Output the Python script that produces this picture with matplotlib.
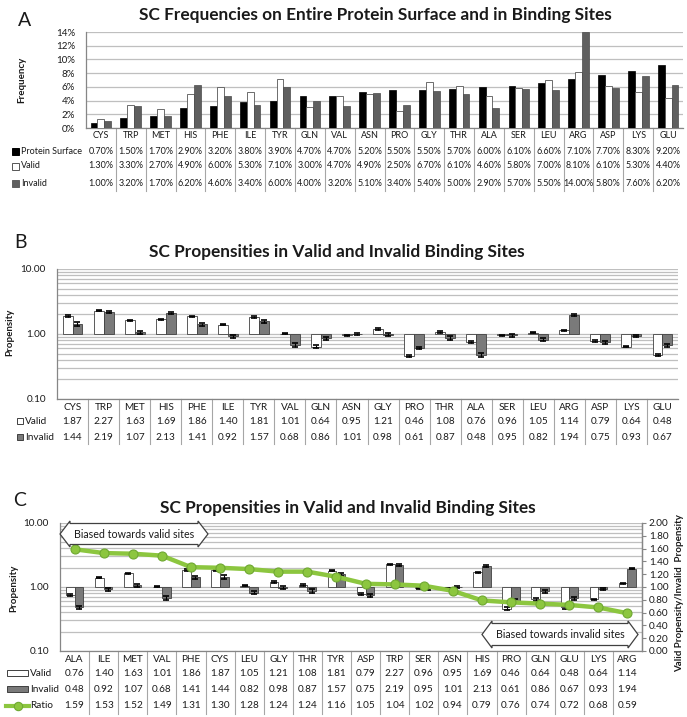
import matplotlib
matplotlib.use('Agg')
import matplotlib.pyplot as plt
import numpy as np
from matplotlib.transforms import blended_transform_factory
from matplotlib.patches import Polygon, Rectangle
from matplotlib.lines import Line2D
from matplotlib.ticker import FixedLocator, NullFormatter, FuncFormatter, LogLocator

plt.rcParams['font.family'] = ['Lato', 'DejaVu Sans']

# ---------------- data ----------------
cats_a = ['CYS', 'TRP', 'MET', 'HIS', 'PHE', 'ILE', 'TYR', 'GLN', 'VAL', 'ASN',
          'PRO', 'GLY', 'THR', 'ALA', 'SER', 'LEU', 'ARG', 'ASP', 'LYS', 'GLU']
surface_a = [0.70, 1.50, 1.70, 2.90, 3.20, 3.80, 3.90, 4.70, 4.70, 5.20,
             5.50, 5.50, 5.70, 6.00, 6.10, 6.60, 7.10, 7.70, 8.30, 9.20]
valid_a = [1.30, 3.30, 2.70, 4.90, 6.00, 5.30, 7.10, 3.00, 4.70, 4.90,
           2.50, 6.70, 6.10, 4.60, 5.80, 7.00, 8.10, 6.10, 5.30, 4.40]
invalid_a = [1.00, 3.20, 1.70, 6.20, 4.60, 3.40, 6.00, 4.00, 3.20, 5.10,
             3.40, 5.40, 5.00, 2.90, 5.70, 5.50, 14.00, 5.80, 7.60, 6.20]

cats_b = ['CYS', 'TRP', 'MET', 'HIS', 'PHE', 'ILE', 'TYR', 'VAL', 'GLN', 'ASN',
          'GLY', 'PRO', 'THR', 'ALA', 'SER', 'LEU', 'ARG', 'ASP', 'LYS', 'GLU']
valid_b = [1.87, 2.27, 1.63, 1.69, 1.86, 1.40, 1.81, 1.01, 0.64, 0.95,
           1.21, 0.46, 1.08, 0.76, 0.96, 1.05, 1.14, 0.79, 0.64, 0.48]
invalid_b = [1.44, 2.19, 1.07, 2.13, 1.41, 0.92, 1.57, 0.68, 0.86, 1.01,
             0.98, 0.61, 0.87, 0.48, 0.95, 0.82, 1.94, 0.75, 0.93, 0.67]
# estimated error bar half-widths (same order as cats_b)
valid_err_b = [0.06, 0.05, 0.04, 0.04, 0.05, 0.04, 0.05, 0.02, 0.03, 0.02,
               0.04, 0.02, 0.03, 0.03, 0.02, 0.03, 0.03, 0.03, 0.02, 0.02]
invalid_err_b = [0.10, 0.08, 0.06, 0.08, 0.07, 0.04, 0.07, 0.05, 0.05, 0.03,
                 0.04, 0.03, 0.05, 0.03, 0.04, 0.04, 0.06, 0.04, 0.04, 0.04]

cats_c = ['ALA', 'ILE', 'MET', 'VAL', 'PHE', 'CYS', 'LEU', 'GLY', 'THR', 'TYR',
          'ASP', 'TRP', 'SER', 'ASN', 'HIS', 'PRO', 'GLN', 'GLU', 'LYS', 'ARG']
valid_c = [0.76, 1.40, 1.63, 1.01, 1.86, 1.87, 1.05, 1.21, 1.08, 1.81,
           0.79, 2.27, 0.96, 0.95, 1.69, 0.46, 0.64, 0.48, 0.64, 1.14]
invalid_c = [0.48, 0.92, 1.07, 0.68, 1.41, 1.44, 0.82, 0.98, 0.87, 1.57,
             0.75, 2.19, 0.95, 1.01, 2.13, 0.61, 0.86, 0.67, 0.93, 1.94]
ratio_c = [1.59, 1.53, 1.52, 1.49, 1.31, 1.30, 1.28, 1.24, 1.24, 1.16,
           1.05, 1.04, 1.02, 0.94, 0.79, 0.76, 0.74, 0.72, 0.68, 0.59]

# ---------------- layout helpers ----------------
W, H = 687, 717
fig = plt.figure(figsize=(W / 100, H / 100), dpi=100)

def fx(px):
    return px / W

def fy(py):
    return 1 - py / H

def axrect(x0, y0, x1, y1):
    return [fx(x0), fy(y1), (x1 - x0) / W, (y1 - y0) / H]

GRID = '#bfbfbf'
SPINE = '#868686'
TXT = '#1a1a1a'
TFS = 7.2   # table font size panels B, C
TFA = 6.5   # table font size panel A
TITLE_FS = 12.4

def style_spines(ax, keep):
    for s in ['left', 'right', 'top', 'bottom']:
        if s in keep:
            ax.spines[s].set_color(SPINE)
            ax.spines[s].set_linewidth(0.9)
        else:
            ax.spines[s].set_visible(False)

def table(ax, cats, rows, fmt, y_header, y_rows, y_top, y_bot, fs):
    n = len(cats)
    tr = blended_transform_factory(ax.transData, fig.transFigure)
    for i, c in enumerate(cats):
        ax.text(i, fy(y_header), c, transform=tr, ha='center', va='center',
                fontsize=fs, color=TXT, clip_on=False)
        for vals, yy in zip(rows, y_rows):
            ax.text(i, fy(yy), fmt(vals[i]), transform=tr, ha='center', va='center',
                    fontsize=fs, color=TXT, clip_on=False)
    for i in range(n - 1):
        ax.add_line(Line2D([i + 0.5, i + 0.5], [fy(y_top), fy(y_bot)], transform=tr,
                           color='#a6a6a6', lw=0.8, clip_on=False))

def square(x, y, size, fc, ec):
    fig.add_artist(Rectangle((fx(x), fy(y + size / 2)), size / W, size / H,
                             transform=fig.transFigure, facecolor=fc, edgecolor=ec, lw=0.7))

def double_arrow(x0, x1, yt, yb, text, head=10, inset=2.5):
    yc = (yt + yb) / 2
    pts = [(x0, yc), (x0 + head, yt), (x0 + head, yt + inset), (x1 - head, yt + inset),
           (x1 - head, yt), (x1, yc), (x1 - head, yb), (x1 - head, yb - inset),
           (x0 + head, yb - inset), (x0 + head, yb)]
    pts = [(fx(a), fy(b)) for a, b in pts]
    fig.add_artist(Polygon(pts, closed=True, transform=fig.transFigure,
                           facecolor='white', edgecolor='#404040', lw=0.9, zorder=10))
    fig.text(fx((x0 + x1) / 2), fy(yc), text, ha='center', va='center',
             fontsize=7.7, color=TXT, zorder=11)

# ================= Panel A =================
axA = fig.add_axes(axrect(86, 32, 683, 128))
x = np.arange(len(cats_a))
bw = 0.23
axA.bar(x - bw, surface_a, bw, color='black', edgecolor='black', lw=0.5, zorder=3)
axA.bar(x, valid_a, bw, color='white', edgecolor='#555555', lw=0.6, zorder=3)
axA.bar(x + bw, invalid_a, bw, color='#5f5f5f', edgecolor='#4a4a4a', lw=0.5, zorder=3)
axA.set_xlim(-0.5, len(cats_a) - 0.5)
axA.set_ylim(0, 14)
axA.set_yticks(np.arange(0, 15, 2))
axA.yaxis.set_major_formatter(FuncFormatter(lambda v, p: f'{int(v)}%'))
axA.grid(axis='y', color=GRID, lw=0.9, zorder=1)
axA.set_axisbelow(True)
axA.set_xticks([])
axA.tick_params(axis='y', length=0, labelsize=7.0, pad=8, labelcolor=TXT)
style_spines(axA, ['left', 'bottom'])
table(axA, cats_a, [surface_a, valid_a, invalid_a], lambda v: f'{v:.2f}%',
      136, [151, 166, 183], 128, 191, TFA)
fig.text(fx(22), fy(80), 'Frequency', rotation=90, ha='center', va='center',
         fontsize=7, fontweight='bold', color=TXT)
fig.text(fx(375), fy(15), 'SC Frequencies on Entire Protein Surface and in Binding Sites',
         ha='center', va='center', fontsize=TITLE_FS, fontweight='bold', color=TXT)
fig.text(fx(25), fy(20), 'A', ha='center', va='center', fontsize=14, color=TXT)
square(12, 151, 7, 'black', 'black')
square(12, 166, 7, 'white', '#555555')
square(12, 183, 7, '#5f5f5f', '#5f5f5f')
for t, yy in zip(['Protein Surface', 'Valid', 'Invalid'], [151, 166, 183]):
    fig.text(fx(21), fy(yy), t, ha='left', va='center', fontsize=TFA, color=TXT)

# ================= Panel B / C common =================
def log_axes(ax):
    ax.set_yscale('log')
    ax.set_ylim(0.1, 10)
    ax.yaxis.set_major_locator(FixedLocator([0.1, 1, 10]))
    ax.yaxis.set_major_formatter(FuncFormatter(lambda v, p: f'{v:.2f}'))
    ax.yaxis.set_minor_locator(LogLocator(base=10, subs=range(2, 10)))
    ax.yaxis.set_minor_formatter(NullFormatter())
    ax.grid(axis='y', which='both', color=GRID, lw=0.9, zorder=1)
    ax.set_axisbelow(True)
    ax.set_xticks([])
    ax.tick_params(axis='y', which='both', length=0, labelsize=7.2, pad=8, labelcolor=TXT)

err_v = dict(zip(cats_b, valid_err_b))
err_i = dict(zip(cats_b, invalid_err_b))

def prop_bars(ax, cats, vv, ii, bw):
    x = np.arange(len(cats))
    vv = np.array(vv)
    ii = np.array(ii)
    ax.bar(x - bw / 2, vv - 1, bw, bottom=1, color='white', edgecolor='#404040', lw=0.6, zorder=3)
    ax.bar(x + bw / 2, ii - 1, bw, bottom=1, color='#7a7a7a', edgecolor='#404040', lw=0.6, zorder=3)
    ax.errorbar(x - bw / 2, vv, yerr=[err_v[c] for c in cats], fmt='none', ecolor='black',
                elinewidth=0.8, capsize=2.5, capthick=1.2, zorder=4)
    ax.errorbar(x + bw / 2, ii, yerr=[err_i[c] for c in cats], fmt='none', ecolor='black',
                elinewidth=0.8, capsize=2.5, capthick=1.2, zorder=4)
    ax.set_xlim(-0.5, len(cats) - 0.5)

# ================= Panel B =================
axB = fig.add_axes(axrect(57, 269, 678, 399))
log_axes(axB)
prop_bars(axB, cats_b, valid_b, invalid_b, 0.32)
style_spines(axB, ['left', 'bottom'])
table(axB, cats_b, [valid_b, invalid_b], lambda v: f'{v:.2f}', 407, [421, 437], 399, 444, TFS)
fig.text(fx(10), fy(332), 'Propensity', rotation=90, ha='center', va='center',
         fontsize=7, fontweight='bold', color=TXT)
fig.text(fx(337), fy(252), 'SC Propensities in Valid and Invalid Binding Sites',
         ha='center', va='center', fontsize=TITLE_FS, fontweight='bold', color=TXT)
fig.text(fx(20), fy(243), 'B', ha='center', va='center', fontsize=14, color=TXT)
square(17, 421, 6, 'white', '#404040')
square(17, 437, 6, '#7a7a7a', '#404040')
for t, yy in zip(['Valid', 'Invalid'], [421, 437]):
    fig.text(fx(25), fy(yy), t, ha='left', va='center', fontsize=TFS, color=TXT)

# ================= Panel C =================
axC = fig.add_axes(axrect(60, 523, 642, 651))
log_axes(axC)
prop_bars(axC, cats_c, valid_c, invalid_c, 0.3)
style_spines(axC, ['left', 'bottom', 'right'])
axC2 = axC.twinx()
axC2.set_ylim(0, 2)
axC2.set_yticks(np.arange(0, 2.01, 0.2))
axC2.yaxis.set_major_formatter(FuncFormatter(lambda v, p: f'{v:.2f}'))
axC2.tick_params(axis='y', length=3, width=0.8, color=SPINE, labelsize=7.2, pad=2, labelcolor=TXT)
for s in ['left', 'top', 'bottom']:
    axC2.spines[s].set_visible(False)
axC2.spines['right'].set_color(SPINE)
axC2.spines['right'].set_linewidth(0.9)
GREEN = '#8cc63f'
axC2.plot(np.arange(len(cats_c)), ratio_c, color=GREEN, lw=3.2, marker='o', ms=6.5,
          mfc=GREEN, mec='#6fa832', mew=0.8, zorder=5, solid_capstyle='round')
table(axC, cats_c, [valid_c, invalid_c, ratio_c], lambda v: f'{v:.2f}',
      659, [673, 689, 706], 651, 714, TFS)
fig.text(fx(14), fy(588), 'Propensity', rotation=90, ha='center', va='center',
         fontsize=7, fontweight='bold', color=TXT)
fig.text(fx(680), fy(593), 'Valid Propensity/Invalid  Propensity', rotation=90,
         ha='center', va='center', fontsize=7, fontweight='bold', color=TXT)
fig.text(fx(348), fy(508), 'SC Propensities in Valid and Invalid Binding Sites',
         ha='center', va='center', fontsize=TITLE_FS, fontweight='bold', color=TXT)
fig.text(fx(20), fy(500), 'C', ha='center', va='center', fontsize=14, color=TXT)
fig.add_artist(Rectangle((fx(7), fy(676)), 21 / W, 6 / H, transform=fig.transFigure,
                         facecolor='white', edgecolor='#404040', lw=0.7))
fig.add_artist(Rectangle((fx(7), fy(692)), 21 / W, 6 / H, transform=fig.transFigure,
                         facecolor='#7a7a7a', edgecolor='#404040', lw=0.7))
fig.add_artist(Line2D([fx(6), fx(29)], [fy(706), fy(706)], transform=fig.transFigure,
                      color=GREEN, lw=3, marker=None))
fig.add_artist(Line2D([fx(17.5)], [fy(706)], transform=fig.transFigure, marker='o',
                      ms=6, mfc=GREEN, mec='#6fa832', mew=0.8, lw=0))
for t, yy in zip(['Valid', 'Invalid', 'Ratio'], [673, 689, 706]):
    fig.text(fx(30), fy(yy), t, ha='left', va='center', fontsize=TFS, color=TXT)

double_arrow(60, 208, 521, 547, 'Biased towards valid sites')
double_arrow(482, 638, 621, 648, 'Biased towards invalid sites')

fig.savefig('out.png', dpi=100, facecolor='white')
